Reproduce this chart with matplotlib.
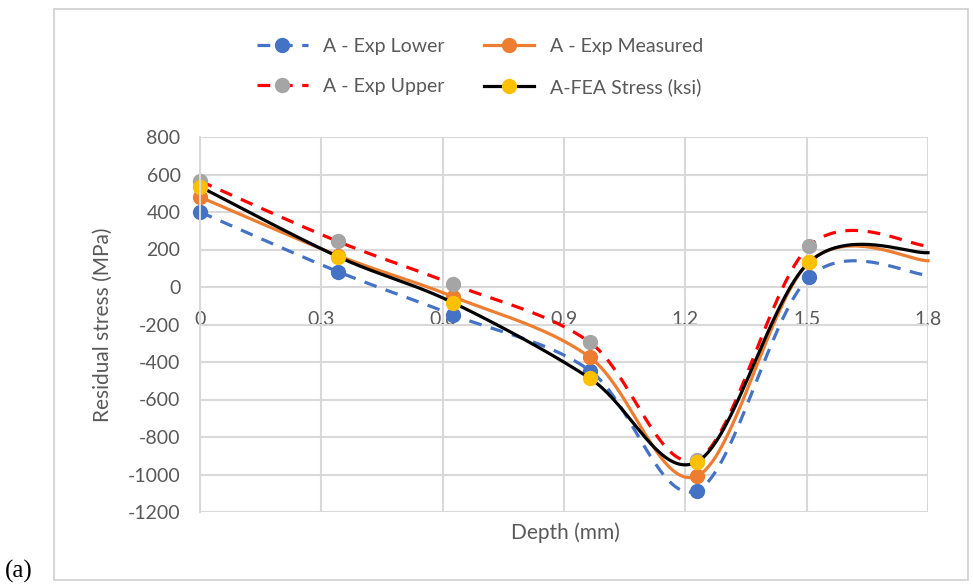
import numpy as np
import matplotlib
matplotlib.use("Agg")
import matplotlib.pyplot as plt
from matplotlib.patches import Rectangle

plt.rcParams['font.family'] = ['Lato', 'DejaVu Sans']
plt.rcParams['axes.unicode_minus'] = False

# depth of each measurement (mm); last point only carries the curve to the edge
depth = [0.0, 0.341, 0.626, 0.964, 1.229, 1.506, 1.8]

exp_lower = [400, 82, -149, -446, -1086, 52, 64]
exp_measured = [480, 168, -52, -375, -1008, 132, 140]
exp_upper = [565, 243, 14, -295, -920, 217, 219]
fea_stress = [535, 162, -84, -487, -932, 132, 183]

series_labels = ["A - Exp Lower", "A - Exp Measured", "A - Exp Upper", "A-FEA Stress (ksi)"]
y_ticks = list(range(-1200, 801, 200))
x_ticks = [0, 0.3, 0.6, 0.9, 1.2, 1.5, 1.8]
x_tick_labels = ["0", "0.3", "0.6", "0.9", "1.2", "1.5", "1.8"]

TXT = "#595959"
GRID = "#d9d9d9"
N_SEG = 40


def smooth_curve(x, y, n=N_SEG):
    """Bezier smoothing like a spreadsheet 'smoothed line'."""
    p = np.column_stack([x, y]).astype(float)
    pts = []
    for i in range(len(p) - 1):
        p0 = p[i - 1] if i > 0 else p[i]
        p1, p2 = p[i], p[i + 1]
        p3 = p[i + 2] if i + 2 < len(p) else p[i + 1]
        c1 = p1 + (p2 - p0) / 6.0
        c2 = p2 - (p3 - p1) / 6.0
        t = np.linspace(0, 1, n, endpoint=False)[:, None]
        seg = ((1 - t) ** 3) * p1 + 3 * ((1 - t) ** 2) * t * c1 + 3 * (1 - t) * t ** 2 * c2 + t ** 3 * p2
        pts.append(seg)
    pts.append(p[-1:])
    pts = np.vstack(pts)
    return pts[:, 0], pts[:, 1]


fig = plt.figure(figsize=(9.73, 5.85), dpi=100)
fig.patches.append(Rectangle((54 / 973, 5 / 585), 914 / 973, 571 / 585, transform=fig.transFigure,
                             fill=False, edgecolor="#d0d0d0", lw=1.2))
ax = fig.add_axes([200 / 973, 1 - 512 / 585, 728 / 973, 375 / 585])

styles = [
    dict(color="#4472c4", ls=(0, (4, 3)), mfc="#4472c4"),
    dict(color="#ed7d31", ls="-", mfc="#ed7d31"),
    dict(color="#ff0000", ls=(0, (4, 3)), mfc="#a5a5a5"),
    dict(color="black", ls="-", mfc="#ffc000"),
]
mark_idx = [i * N_SEG for i in range(len(depth) - 1)]
handles = []
for vals, st, lab in zip([exp_lower, exp_measured, exp_upper, fea_stress], styles, series_labels):
    sx, sy = smooth_curve(depth, vals)
    h, = ax.plot(sx, sy, color=st["color"], ls=st["ls"], lw=2.3, marker="o", ms=10,
                 mfc=st["mfc"], mec=st["mfc"], markevery=mark_idx, label=lab, clip_on=False)
    handles.append(h)

ax.set_xlim(0, 1.8)
ax.set_ylim(-1200, 800)
ax.set_yticks(y_ticks)
ax.set_xticks(x_ticks)
ax.set_xticklabels(x_tick_labels)
ax.grid(True, color=GRID, lw=1.5)
ax.set_axisbelow(True)
for s in ["top", "right", "bottom"]:
    ax.spines[s].set_visible(False)
ax.spines["left"].set_color(GRID)
ax.spines["left"].set_linewidth(1.5)
ax.spines["bottom"].set_position(("data", 0))
ax.tick_params(axis="both", length=0, labelsize=14, labelcolor=TXT)
ax.tick_params(axis="x", pad=17)
ax.tick_params(axis="y", pad=14)
for lbl in ax.get_xticklabels():
    lbl.set_verticalalignment("top")

fig.text(565 / 973, 1 - 533 / 585, "Depth (mm)", ha="center", va="center", fontsize=15, color=TXT)
fig.text(103 / 973, 1 - 325 / 585, "Residual stress (MPa)", ha="center", va="center",
         rotation=90, fontsize=15, color=TXT)
fig.text(5 / 973, 1 - 571 / 585, "(a)", ha="left", va="center", fontsize=18,
         family="Liberation Serif", color="black")

order = [handles[0], handles[2], handles[1], handles[3]]
fig.legend(order, [h.get_label() for h in order], ncol=2, loc="center",
           bbox_to_anchor=(480 / 973, 1 - 67 / 585), frameon=False, fontsize=14,
           labelcolor=TXT, handlelength=2.6, columnspacing=2.0, labelspacing=1.2,
           handletextpad=0.8)

fig.savefig("out.png", dpi=100)
